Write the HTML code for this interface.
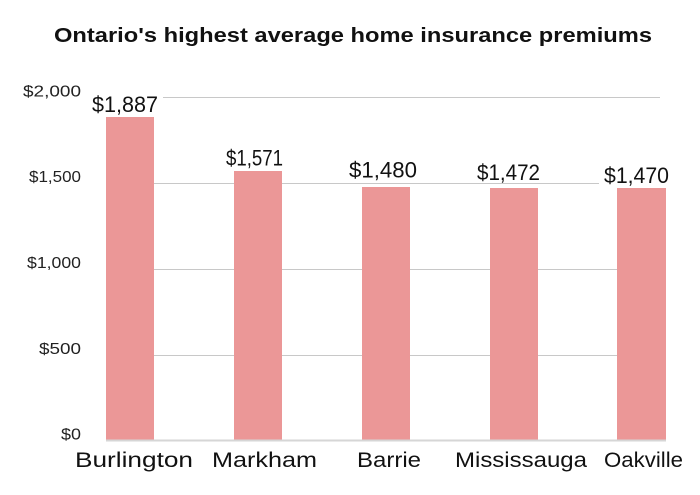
<!DOCTYPE html>
<html>
<head>
<meta charset="utf-8">
<style>
html,body{margin:0;padding:0;background:#fff;}
svg{display:block;}
text{font-family:"Liberation Sans",sans-serif;}
</style>
</head>
<body>
<svg width="700" height="495" viewBox="0 0 700 495" xmlns="http://www.w3.org/2000/svg">
<rect width="700" height="495" fill="#fff"/>
<!-- title -->
<text x="54" y="42" font-size="20.5" font-weight="bold" fill="#111" textLength="598" lengthAdjust="spacingAndGlyphs">Ontario's highest average home insurance premiums</text>

<!-- gridlines -->
<g stroke="#c8c8c8" stroke-width="1">
<line x1="106" y1="97.5" x2="660" y2="97.5"/>
<line x1="106" y1="183.5" x2="660" y2="183.5"/>
<line x1="106" y1="269.5" x2="660" y2="269.5"/>
<line x1="106" y1="355.5" x2="660" y2="355.5"/>
</g>

<!-- y labels -->
<g font-size="16" fill="#222" text-anchor="end">
<text x="81" y="96.5" textLength="58" lengthAdjust="spacingAndGlyphs">$2,000</text>
<text x="81" y="182" textLength="52" lengthAdjust="spacingAndGlyphs">$1,500</text>
<text x="81" y="268" textLength="54" lengthAdjust="spacingAndGlyphs">$1,000</text>
<text x="81" y="354" textLength="42" lengthAdjust="spacingAndGlyphs">$500</text>
<text x="81" y="439.5" textLength="20" lengthAdjust="spacingAndGlyphs">$0</text>
</g>

<!-- bars -->
<g fill="#eb9797">
<rect x="106" y="117" width="48" height="323"/>
<rect x="234" y="171" width="48" height="269"/>
<rect x="362" y="187" width="48" height="253"/>
<rect x="490" y="188" width="48" height="252"/>
<rect x="617" y="188" width="49" height="252"/>
</g>

<!-- baseline -->
<line x1="106" y1="440.5" x2="666" y2="440.5" stroke="#d6d6d6" stroke-width="2"/>

<!-- value label backgrounds -->
<g fill="#fff">
<rect x="87" y="90" width="76" height="24"/>
<rect x="599" y="163" width="75" height="21"/>
</g>

<!-- value labels -->
<g font-size="22" fill="#111">
<text x="92" y="112" textLength="66" lengthAdjust="spacingAndGlyphs">$1,887</text>
<text x="226" y="165.5" textLength="57" lengthAdjust="spacingAndGlyphs">$1,571</text>
<text x="349" y="177.5" textLength="68" lengthAdjust="spacingAndGlyphs">$1,480</text>
<text x="477" y="180" textLength="63" lengthAdjust="spacingAndGlyphs">$1,472</text>
<text x="604" y="183" textLength="65" lengthAdjust="spacingAndGlyphs">$1,470</text>
</g>

<!-- category labels -->
<g font-size="21" fill="#111">
<text x="75" y="467" textLength="118" lengthAdjust="spacingAndGlyphs">Burlington</text>
<text x="212" y="467" textLength="105" lengthAdjust="spacingAndGlyphs">Markham</text>
<text x="357" y="467" textLength="64" lengthAdjust="spacingAndGlyphs">Barrie</text>
<text x="455" y="467" textLength="132" lengthAdjust="spacingAndGlyphs">Mississauga</text>
<text x="604" y="467" textLength="79" lengthAdjust="spacingAndGlyphs">Oakville</text>
</g>
</svg>
</body>
</html>
